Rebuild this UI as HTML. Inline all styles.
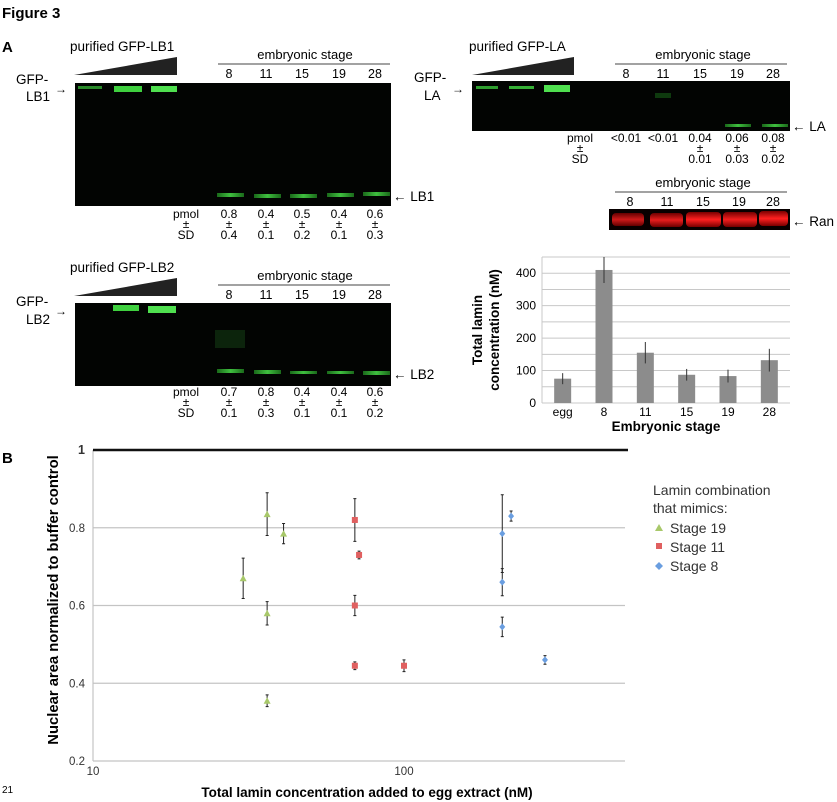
<!DOCTYPE html>
<html><head><meta charset="utf-8">
<style>
html,body{margin:0;padding:0;background:#fff;}
svg{display:block;font-family:"Liberation Sans",Arial,sans-serif;}
</style></head>
<body>
<svg id="fig" width="837" height="802" viewBox="0 0 837 802" xmlns="http://www.w3.org/2000/svg">
<defs>
<linearGradient id="gband" x1="0" x2="1"><stop offset="0" stop-color="#1a6a1a"/><stop offset="0.5" stop-color="#3fbf3f"/><stop offset="1" stop-color="#1a6a1a"/></linearGradient>
<linearGradient id="rband" x1="0" x2="0" y1="0" y2="1"><stop offset="0" stop-color="#7a0000"/><stop offset="0.5" stop-color="#ff2020"/><stop offset="1" stop-color="#7a0000"/></linearGradient>
</defs>
<text x="2" y="18" font-size="15" font-weight="bold">Figure 3</text>
<text x="2" y="52" font-size="15" font-weight="bold">A</text>
<text x="2" y="463" font-size="15" font-weight="bold">B</text>

<g font-size="12.5">
<text x="70" y="51" font-size="13.5">purified GFP-LB1</text>
<polygon points="74,75 177,57 177,75" fill="#222"/>
<text x="305" y="59" text-anchor="middle" font-size="13">embryonic stage</text>
<line x1="218" y1="64" x2="390" y2="64" stroke="#444"/>
<g text-anchor="middle"><text x="229" y="78">8</text><text x="266" y="78">11</text><text x="302" y="78">15</text><text x="339" y="78">19</text><text x="375" y="78">28</text></g>
<rect x="75" y="83" width="316" height="123" fill="#020402"/>
<rect x="78" y="86" width="24" height="3" fill="#2a8a2a"/>
<rect x="114" y="86" width="28" height="6" fill="#3fd03f"/>
<rect x="151" y="86" width="26" height="6" fill="#4fe04f"/>
<g fill="url(#gband)"><rect x="217" y="193" width="27" height="4"/><rect x="254" y="194" width="27" height="4"/><rect x="290" y="194" width="27" height="4"/><rect x="327" y="193" width="27" height="4"/><rect x="363" y="192" width="27" height="4"/></g>
<text x="16" y="84" font-size="13.5">GFP-</text><text x="26" y="101" font-size="13.5">LB1</text>
<text x="55" y="93" font-size="12">→</text>
<text x="393" y="201" font-size="13.5">← LB1</text>
<g text-anchor="middle" font-size="12"><text x="186" y="218">pmol</text><text x="186" y="228">±</text><text x="186" y="239">SD</text>
<text x="229" y="218">0.8</text><text x="229" y="228">±</text><text x="229" y="239">0.4</text>
<text x="266" y="218">0.4</text><text x="266" y="228">±</text><text x="266" y="239">0.1</text>
<text x="302" y="218">0.5</text><text x="302" y="228">±</text><text x="302" y="239">0.2</text>
<text x="339" y="218">0.4</text><text x="339" y="228">±</text><text x="339" y="239">0.1</text>
<text x="375" y="218">0.6</text><text x="375" y="228">±</text><text x="375" y="239">0.3</text></g>
</g>

<g font-size="12.5">
<text x="70" y="272" font-size="13.5">purified GFP-LB2</text>
<polygon points="74,296 177,278 177,296" fill="#222"/>
<text x="305" y="280" text-anchor="middle" font-size="13">embryonic stage</text>
<line x1="218" y1="285" x2="390" y2="285" stroke="#444"/>
<g text-anchor="middle"><text x="229" y="299">8</text><text x="266" y="299">11</text><text x="302" y="299">15</text><text x="339" y="299">19</text><text x="375" y="299">28</text></g>
<rect x="75" y="303" width="316" height="83" fill="#020402"/>
<rect x="113" y="305" width="26" height="6" fill="#3fd03f"/>
<rect x="148" y="306" width="28" height="7" fill="#4fe04f"/>
<rect x="215" y="330" width="30" height="18" fill="#0c240c"/>
<g fill="url(#gband)"><rect x="217" y="369" width="27" height="4"/><rect x="254" y="370" width="27" height="4"/><rect x="290" y="371" width="27" height="3"/><rect x="327" y="371" width="27" height="3"/><rect x="363" y="371" width="27" height="4"/></g>
<text x="16" y="306" font-size="13.5">GFP-</text><text x="26" y="324" font-size="13.5">LB2</text>
<text x="55" y="315" font-size="12">→</text>
<text x="393" y="379" font-size="13.5">← LB2</text>
<g text-anchor="middle" font-size="12"><text x="186" y="396">pmol</text><text x="186" y="406">±</text><text x="186" y="417">SD</text>
<text x="229" y="396">0.7</text><text x="229" y="406">±</text><text x="229" y="417">0.1</text>
<text x="266" y="396">0.8</text><text x="266" y="406">±</text><text x="266" y="417">0.3</text>
<text x="302" y="396">0.4</text><text x="302" y="406">±</text><text x="302" y="417">0.1</text>
<text x="339" y="396">0.4</text><text x="339" y="406">±</text><text x="339" y="417">0.1</text>
<text x="375" y="396">0.6</text><text x="375" y="406">±</text><text x="375" y="417">0.2</text></g>
</g>

<g font-size="12.5">
<text x="469" y="51" font-size="13.5">purified GFP-LA</text>
<polygon points="472,75 574,57 574,75" fill="#222"/>
<text x="703" y="59" text-anchor="middle" font-size="13">embryonic stage</text>
<line x1="615" y1="64" x2="787" y2="64" stroke="#444"/>
<g text-anchor="middle"><text x="626" y="78">8</text><text x="663" y="78">11</text><text x="700" y="78">15</text><text x="737" y="78">19</text><text x="773" y="78">28</text></g>
<rect x="472" y="81" width="318" height="50" fill="#020402"/>
<rect x="476" y="86" width="22" height="3" fill="#2f9f2f"/>
<rect x="509" y="86" width="25" height="3" fill="#35b035"/>
<rect x="544" y="85" width="26" height="7" fill="#4fe04f"/>
<rect x="655" y="93" width="16" height="5" fill="#0e3a0e"/>
<g fill="url(#gband)"><rect x="725" y="124" width="26" height="3"/><rect x="762" y="124" width="26" height="3"/></g>
<text x="414" y="82" font-size="13.5">GFP-</text><text x="424" y="100" font-size="13.5">LA</text>
<text x="452" y="93" font-size="12">→</text>
<text x="792" y="131" font-size="13.5">← LA</text>
<g text-anchor="middle" font-size="12"><text x="580" y="142">pmol</text><text x="580" y="152">±</text><text x="580" y="163">SD</text>
<text x="626" y="142">&lt;0.01</text><text x="663" y="142">&lt;0.01</text>
<text x="700" y="142">0.04</text><text x="700" y="152">±</text><text x="700" y="163">0.01</text>
<text x="737" y="142">0.06</text><text x="737" y="152">±</text><text x="737" y="163">0.03</text>
<text x="773" y="142">0.08</text><text x="773" y="152">±</text><text x="773" y="163">0.02</text></g>
</g>

<g font-size="12.5">
<text x="703" y="187" text-anchor="middle" font-size="13">embryonic stage</text>
<line x1="615" y1="192" x2="787" y2="192" stroke="#444"/>
<g text-anchor="middle"><text x="630" y="206">8</text><text x="667" y="206">11</text><text x="703" y="206">15</text><text x="739" y="206">19</text><text x="773" y="206">28</text></g>
<rect x="609" y="209" width="181" height="21" fill="#080000"/>
<g fill="url(#rband)"><rect x="612" y="213" width="32" height="13" rx="4" opacity="0.8"/><rect x="650" y="213" width="33" height="14" rx="4" opacity="0.9"/><rect x="686" y="212" width="35" height="15" rx="4"/><rect x="723" y="212" width="34" height="15" rx="4" opacity="0.95"/><rect x="759" y="211" width="29" height="15" rx="4"/></g>
<text x="792" y="226" font-size="13.5">← Ran</text>
</g>

<g id="barchart"></g>
<g id="scatter"></g>
<text x="2" y="793" font-size="10">21</text>
</svg>
<script>
// ---- Bar chart data ----
const barCategories = ["egg","8","11","15","19","28"];
const barValues = [75, 410, 155, 87, 83, 132];
const barErrors = [17, 40, 33, 18, 20, 35];
const barTicks = [0,100,200,300,400];

// ---- Scatter data ----
const stage19X = [30.4, 36.3, 36.3, 36.3, 41];
const stage19Y = [0.67, 0.835, 0.58, 0.355, 0.785];
const stage19Err = [0.052, 0.055, 0.03, 0.015, 0.026];
const stage11X = [69.5, 69.5, 69.5, 71.7, 100];
const stage11Y = [0.82, 0.60, 0.445, 0.73, 0.445];
const stage11Err = [0.055, 0.026, 0.01, 0.01, 0.015];
const stage8X = [207, 207, 207, 221, 284];
const stage8Y = [0.785, 0.66, 0.545, 0.83, 0.46];
const stage8Err = [0.1, 0.035, 0.025, 0.013, 0.011];
const scatterYTicks = [0.2, 0.4, 0.6, 0.8, 1];
const scatterXTicks = [10, 100];

const NS="http://www.w3.org/2000/svg";
function mk(tag, attrs, parent, txt){const e=document.createElementNS(NS,tag);for(const k in attrs)e.setAttribute(k,attrs[k]);if(txt!==undefined)e.textContent=txt;parent.appendChild(e);return e;}

(function(){
const g=document.getElementById('barchart');
const x0=542,x1=790,y0=403,yTop=257,vMax=450;
const ys=v=>y0-(v/vMax)*(y0-yTop);
for(let v=0;v<=vMax;v+=50){const gl=mk('line',{x1:x0,x2:x1,y1:ys(v),y2:ys(v),stroke:'#c8c8c8','stroke-width':1},g);

}
mk('line',{x1:x0,x2:x0,y1:yTop,y2:y0,stroke:'#c8c8c8'},g);
barTicks.forEach(t=>{const tx=mk('text',{x:x0-6,y:ys(t)+4,'text-anchor':'end','font-size':12},g,String(t));

});
const step=(x1-x0)/barCategories.length;
barCategories.forEach((c,i)=>{const cx=x0+step*(i+0.5);
const r=mk('rect',{x:cx-8.5,y:ys(barValues[i]),width:17,height:y0-ys(barValues[i]),fill:'#8c8c8c'},g);


const e=mk('line',{x1:cx,x2:cx,y1:ys(barValues[i]+barErrors[i]),y2:ys(barValues[i]-barErrors[i]),stroke:'#333','stroke-width':1},g);


const t=mk('text',{x:cx,y:y0+13,'text-anchor':'middle','font-size':12},g,c);

});
const yt=mk('text',{transform:'translate(494,330) rotate(-90)','text-anchor':'middle','font-size':13.5,'font-weight':'bold'},g);


mk('tspan',{x:0,y:-12},yt,'Total lamin');mk('tspan',{x:0,y:5},yt,'concentration (nM)');
const xt=mk('text',{x:666,y:431,'text-anchor':'middle','font-size':13.5,'font-weight':'bold'},g,'Embryonic stage');


})();

(function(){
const g=document.getElementById('scatter');
const X0=93,X1=625,decade=311,Y1=450,Y02=761;
const xs=v=>X0+Math.log10(v/10)*decade;
const ys=v=>Y02-(v-0.2)/0.8*(Y02-Y1);
scatterYTicks.forEach(t=>{
if(t<1&&t>0.2){const l=mk('line',{x1:X0,x2:X1,y1:ys(t),y2:ys(t),stroke:'#c4c4c4','stroke-width':1.2},g);

}
const tx=mk('text',{x:X0-8,y:ys(t)+4,'text-anchor':'end','font-size':t===1?12.5:11.5,'font-weight':t===1?'bold':'normal',fill:'#333'},g,String(t));

});
mk('line',{x1:X0,x2:X1,y1:ys(0.2),y2:ys(0.2),stroke:'#c4c4c4','stroke-width':1.2},g);
mk('line',{x1:X0,x2:X0,y1:Y1,y2:Y02,stroke:'#c4c4c4','stroke-width':1.2},g);
const top=mk('line',{x1:X0,x2:X1+3,y1:ys(1),y2:ys(1),stroke:'#111','stroke-width':2.5},g);


scatterXTicks.forEach(t=>{const tx=mk('text',{x:xs(t),y:Y02+14,'text-anchor':'middle','font-size':11.5,fill:'#333'},g,String(t));

});
function series(xsA,ysA,errA,color,shape,name){
xsA.forEach((xv,i)=>{const cx=xs(xv),cy=ys(ysA[i]);const e1=ys(ysA[i]+errA[i]),e2=ys(ysA[i]-errA[i]);
const eb=mk('path',{d:`M${cx},${e1}V${e2}M${cx-1.5},${e1}H${cx+1.5}M${cx-1.5},${e2}H${cx+1.5}`,stroke:'#222','stroke-width':1,fill:'none'},g);


let m;
if(shape==='tri')m=mk('polygon',{points:`${cx},${cy-3.5} ${cx+3.5},${cy+3} ${cx-3.5},${cy+3}`,fill:color},g);
else if(shape==='sq')m=mk('rect',{x:cx-3,y:cy-3,width:6,height:6,fill:color},g);
else m=mk('polygon',{points:`${cx},${cy-3.5} ${cx+3},${cy} ${cx},${cy+3.5} ${cx-3},${cy}`,fill:color},g);

});}
series(stage19X,stage19Y,stage19Err,'#a8c86a','tri','stage-19');
series(stage11X,stage11Y,stage11Err,'#e06060','sq','stage-11');
series(stage8X,stage8Y,stage8Err,'#6a9ee0','dia','stage-8');
const yt=mk('text',{transform:`translate(58,600) rotate(-90)`,'text-anchor':'middle','font-size':14.8,'font-weight':'bold'},g,'Nuclear area normalized to buffer control');


const xt=mk('text',{x:367,y:797,'text-anchor':'middle','font-size':13.5,'font-weight':'bold'},g,'Total lamin concentration added to egg extract (nM)');


const lg=mk('g',{'font-size':14,fill:'#333'},g);


mk('text',{x:653,y:495},lg,'Lamin combination');
mk('text',{x:653,y:513},lg,'that mimics:');
mk('polygon',{points:'659,524 663,531 655,531',fill:'#a8c86a'},lg);
mk('text',{x:670,y:533},lg,'Stage 19');
mk('rect',{x:656,y:543,width:6,height:6,fill:'#e06060'},lg);
mk('text',{x:670,y:552},lg,'Stage 11');
mk('polygon',{points:'659,562 663,566 659,570 655,566',fill:'#6a9ee0'},lg);
mk('text',{x:670,y:571},lg,'Stage 8');
})();
</script>
</body></html>
